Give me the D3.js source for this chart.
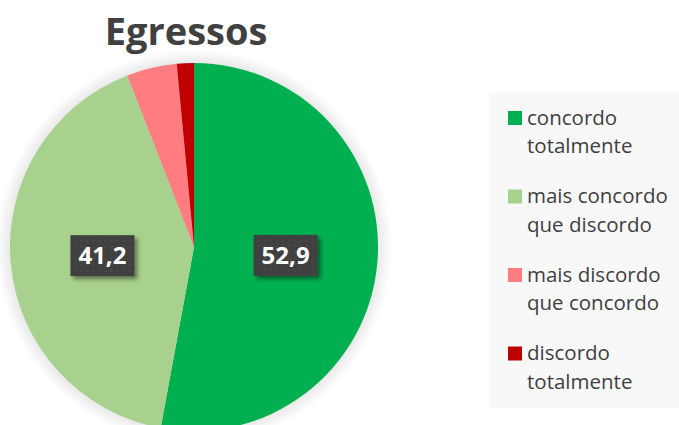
<!DOCTYPE html>
<html><head><meta charset="utf-8">
<script src="https://cdn.jsdelivr.net/npm/d3@7"></script>
<style>body{margin:0;background:#fff}svg{display:block}</style>
</head><body>
<script>
const categories = ["concordo totalmente","mais concordo que discordo","mais discordo que concordo","discordo totalmente"];
const legendLines = [["concordo","totalmente"],["mais concordo","que discordo"],["mais discordo","que concordo"],["discordo","totalmente"]];
const values = [52.9, 41.2, 4.4, 1.5];
const shownLabels = ["52,9","41,2","",""];
const colors = ["#00B050","#A9D18E","#FF7C80","#C00000"];
const title = "Egressos";

const W=679,H=425, cx=194, cy=247, R=184;
const svg=d3.select("body").append("svg").attr("width",W).attr("height",H);
const defs=svg.append("defs");
const glow=defs.append("radialGradient").attr("id","glow");
glow.append("stop").attr("offset","0.9").attr("stop-color","#000").attr("stop-opacity",0.12);
glow.append("stop").attr("offset","1").attr("stop-color","#000").attr("stop-opacity",0);
const pat=defs.append("pattern").attr("id","dots").attr("width",6).attr("height",6).attr("patternUnits","userSpaceOnUse");
pat.append("rect").attr("width",6).attr("height",6).attr("fill","#404040");
pat.append("circle").attr("cx",3).attr("cy",3).attr("r",1).attr("fill","#4c4c4c");
const sh=defs.append("filter").attr("id","sh").attr("x","-30%").attr("y","-30%").attr("width","160%").attr("height","160%");
sh.append("feDropShadow").attr("dx",3).attr("dy",3).attr("stdDeviation",2).attr("flood-color","#000").attr("flood-opacity",0.45);

svg.append("circle").attr("cx",cx).attr("cy",cy).attr("r",R+14).attr("fill","url(#glow)");

const pie=d3.pie().sort(null).value(d=>d)(values);
const arc=d3.arc().innerRadius(0).outerRadius(R);
const g=svg.append("g").attr("transform",`translate(${cx},${cy})`);
g.selectAll("path").data(pie).join("path").attr("d",arc).attr("fill",(d,i)=>colors[i]);

const lab=d3.arc().innerRadius(R*0.5).outerRadius(R*0.5);
pie.forEach((d,i)=>{
  if(!shownLabels[i]) return;
  const [x,y]=lab.centroid(d);
  const lg=g.append("g").attr("transform",`translate(${x},${y})`);
  lg.append("rect").attr("x",-32).attr("y",-20.5).attr("width",64).attr("height",41).attr("fill","url(#dots)").attr("filter","url(#sh)");
  lg.append("text").attr("text-anchor","middle").attr("dy","0.36em").attr("fill","#fff")
    .attr("font-family","Open Sans").attr("font-weight","bold").attr("font-size",24).text(shownLabels[i]);
});

svg.append("text").attr("x",186).attr("y",45).attr("text-anchor","middle").attr("fill","#404040")
  .attr("font-family","Open Sans").attr("font-weight","bold").attr("font-size",38).text(title);

svg.append("rect").attr("x",489).attr("y",93).attr("width",190).attr("height",315).attr("fill","#f8f8f8");
const leg=svg.append("g");
categories.forEach((c,i)=>{
  const y0=111+i*78.5;
  leg.append("rect").attr("x",508).attr("y",y0).attr("width",14).attr("height",14).attr("fill",colors[i]);
  legendLines[i].forEach((t,j)=>{
    leg.append("text").attr("x",527).attr("y",y0+13.5+j*28.5).attr("fill","#404040")
      .attr("font-family","Open Sans").attr("font-size",20.5).text(t);
  });
});
</script>
</body></html>
